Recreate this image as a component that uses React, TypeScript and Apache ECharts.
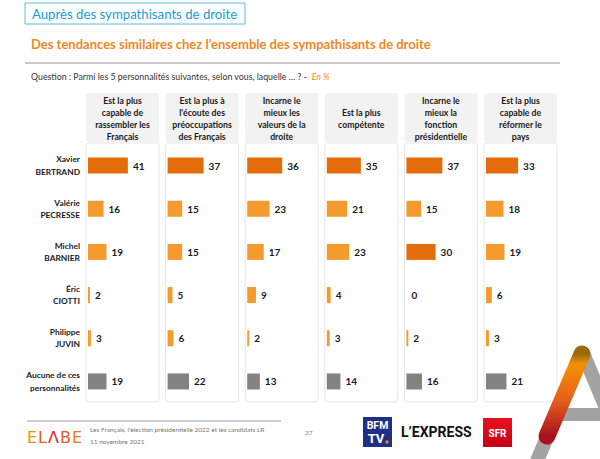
import React, { useEffect, useRef } from "react";
import * as echarts from "echarts";

// ---------- data ----------
const rowLabels = [
  "Xavier\nBERTRAND",
  "Valérie\nPECRESSE",
  "Michel\nBARNIER",
  "Éric\nCIOTTI",
  "Philippe\nJUVIN",
  "Aucune de ces\npersonnalités",
];
const questionLabels = [
  "Est la plus\ncapable de\nrassembler les\nFrançais",
  "Est la plus à\nl'écoute des\npréoccupations\ndes Français",
  "Incarne le\nmieux les\nvaleurs de la\ndroite",
  "Est la plus\ncompétente",
  "Incarne le\nmieux la\nfonction\nprésidentielle",
  "Est la plus\ncapable de\nréformer le\npays",
];
const rassembler = [41, 16, 19, 2, 3, 19];
const ecoute = [37, 15, 15, 5, 6, 22];
const valeurs = [36, 23, 17, 9, 2, 13];
const competente = [35, 21, 23, 4, 3, 14];
const presidentielle = [37, 15, 30, 0, 2, 16];
const reformer = [33, 18, 19, 6, 3, 21];
const columns = [rassembler, ecoute, valeurs, competente, presidentielle, reformer];
// [row, column] cells drawn in the dark orange
const highlighted = [
  [0, 0], [0, 1], [0, 2], [0, 3], [0, 4], [0, 5], [2, 4],
];
const noneRowIndex = 5;

// ---------- styles / layout ----------
const DARK = "#E46C0A";
const LIGHT = "#F59A2C";
const GREY = "#828282";
const ORANGE_TEXT = "#F0871F";
const FONT = "Lato, 'Open Sans', sans-serif";
const PANEL_LEFT0 = 86;
const PANEL_STEP = 79.6;
const PANEL_W = 73;
const HEAD_TOP = 93;
const HEAD_H = 49;
const BODY_TOP = 143;
const BODY_H = 259;

export default function App() {
  const ref = useRef<HTMLDivElement>(null);

  useEffect(() => {
    if (!ref.current) return;
    const chart = echarts.init(ref.current, undefined, { renderer: "svg" });

    const isHi = (r: number, c: number) => highlighted.some(([hr, hc]) => hr === r && hc === c);

    const grids: any[] = [];
    const xAxes: any[] = [];
    const yAxes: any[] = [];
    const series: any[] = [];
    const graphics: any[] = [];

    columns.forEach((vals, c) => {
      const pl = PANEL_LEFT0 + c * PANEL_STEP;
      grids.push({ left: pl + 2, top: BODY_TOP + 1, width: PANEL_W - 2, height: BODY_H, containLabel: false });
      xAxes.push({ type: "value", gridIndex: c, min: 0, max: 73, show: false });
      yAxes.push({
        type: "category",
        gridIndex: c,
        data: rowLabels,
        inverse: true,
        axisLine: { show: false },
        axisTick: { show: false },
        splitLine: { show: false },
        axisLabel: {
          show: c === 0,
          margin: 8,
          color: "#1a1a1a",
          fontFamily: FONT,
          fontWeight: "bold",
          fontSize: 8.4,
          lineHeight: 12.3,
          align: "right",
          padding: [0, 0, 6, 0],
        },
      });
      series.push({
        type: "bar",
        xAxisIndex: c,
        yAxisIndex: c,
        barWidth: 16,
        data: vals.map((v, r) => ({
          value: v,
          itemStyle: { color: r === noneRowIndex ? GREY : isHi(r, c) ? DARK : LIGHT },
        })),
        label: {
          show: true,
          position: "right",
          distance: 5,
          color: "#1a1a1a",
          fontFamily: FONT,
          fontWeight: "bold",
          fontSize: 10,
        },
      });
      // header panel
      graphics.push({
        type: "rect",
        z: 0,
        shape: { x: pl, y: HEAD_TOP, width: PANEL_W, height: HEAD_H, r: 2 },
        style: { fill: "#f2f2f2" },
      });
      graphics.push({
        type: "text",
        z: 1,
        x: pl + PANEL_W / 2,
        y: HEAD_TOP + HEAD_H / 2 + 1,
        style: {
          text: questionLabels[c],
          fill: "#1a1a1a",
          fontFamily: FONT,
          fontWeight: "bold",
          fontSize: 8.7,
          lineHeight: 12,
          align: "center",
          verticalAlign: "middle",
        },
      });
      // body panel
      graphics.push({
        type: "rect",
        z: 0,
        shape: { x: pl, y: BODY_TOP, width: PANEL_W, height: BODY_H, r: 3 },
        style: { fill: "#ffffff", stroke: "#e6e6e6", lineWidth: 1 },
      });
    });

    // header area
    graphics.push(
      {
        type: "rect",
        shape: { x: 25, y: 3, width: 220, height: 21 },
        style: { fill: "#fff", stroke: "#5fb9e6", lineWidth: 1 },
      },
      {
        type: "text",
        x: 32,
        y: 14,
        style: {
          text: "Auprès des sympathisants de droite",
          fill: "#1b9ad6",
          fontFamily: FONT,
          fontSize: 13.2,
          verticalAlign: "middle",
        },
      },
      {
        type: "text",
        x: 31,
        y: 44,
        style: {
          text: "Des tendances similaires chez l’ensemble des sympathisants de droite",
          fill: ORANGE_TEXT,
          fontFamily: FONT,
          fontWeight: "bold",
          fontSize: 13,
          verticalAlign: "middle",
        },
      },
      {
        type: "line",
        shape: { x1: 25, y1: 63, x2: 560, y2: 63 },
        style: { stroke: "#b8b8b8", lineWidth: 1.5 },
      },
      {
        type: "text",
        x: 31,
        y: 76,
        style: {
          text: "{q|Question : Parmi les 5 personnalités suivantes, selon vous, laquelle … ? -  }{e|En %}",
          verticalAlign: "middle",
          rich: {
            q: { fontFamily: FONT, fontSize: 8.8, fill: "#333", color: "#333" },
            e: { fontFamily: FONT, fontSize: 8.8, fontStyle: "italic", fill: ORANGE_TEXT, color: ORANGE_TEXT },
          },
        },
      }
    );

    // footer
    graphics.push(
      {
        type: "line",
        shape: { x1: 27, y1: 421, x2: 281, y2: 421 },
        style: { stroke: "#bdbdbd", lineWidth: 1.5 },
      },
      {
        type: "text",
        x: 27,
        y: 437,
        style: {
          text: "{a|E}{b|L}{c|Λ}{d|B}{e|E}",
          verticalAlign: "middle",
          rich: {
            a: { fontFamily: "DejaVu Sans", fontSize: 16, color: "#F39200", fill: "#F39200", padding: [0, 1, 0, 0] },
            b: { fontFamily: "DejaVu Sans", fontSize: 16, color: "#E8581C", fill: "#E8581C", padding: [0, 1, 0, 0] },
            c: { fontFamily: "DejaVu Sans", fontSize: 16, color: "#D7261E", fill: "#D7261E", padding: [0, 1, 0, 0] },
            d: { fontFamily: "DejaVu Sans", fontSize: 16, color: "#E8581C", fill: "#E8581C", padding: [0, 1, 0, 0] },
            e: { fontFamily: "DejaVu Sans", fontSize: 16, color: "#F07A14", fill: "#F07A14" },
          },
        },
      },
      {
        type: "text",
        x: 90,
        y: 429,
        style: {
          text: "Les Français, l’élection présidentielle 2022 et les candidats LR",
          fill: "#777",
          fontFamily: FONT,
          fontSize: 6.5,
          verticalAlign: "middle",
        },
      },
      {
        type: "text",
        x: 90,
        y: 441,
        style: { text: "11 novembre 2021", fill: "#777", fontFamily: FONT, fontSize: 6.5, verticalAlign: "middle" },
      },
      {
        type: "text",
        x: 305,
        y: 432,
        style: { text: "37", fill: "#888", fontFamily: FONT, fontSize: 6.5, verticalAlign: "middle" },
      },
      // BFM TV
      {
        type: "rect",
        shape: { x: 363, y: 417, width: 29, height: 30 },
        style: { fill: "#1f2f86" },
      },
      {
        type: "text",
        x: 377.5,
        y: 425,
        style: {
          text: "BFM",
          fill: "#fff",
          fontFamily: "Roboto, sans-serif",
          fontWeight: "bold",
          fontSize: 10.5,
          align: "center",
          verticalAlign: "middle",
        },
      },
      {
        type: "text",
        x: 376,
        y: 438,
        style: {
          text: "TV",
          fill: "#fff",
          fontFamily: "Roboto, sans-serif",
          fontWeight: "bold",
          fontSize: 13,
          align: "center",
          verticalAlign: "middle",
        },
      },
      { type: "circle", shape: { cx: 387, cy: 442, r: 1.6 }, style: { fill: "#F39200" } },
      {
        type: "text",
        x: 401,
        y: 432,
        style: {
          text: "L’EXPRESS",
          fill: "#111",
          fontFamily: "Roboto, sans-serif",
          fontWeight: "bold",
          fontSize: 14,
          verticalAlign: "middle",
        },
      },
      {
        type: "rect",
        shape: { x: 483, y: 418, width: 29, height: 29 },
        style: {
          fill: new echarts.graphic.LinearGradient(0, 0, 0, 1, [
            { offset: 0, color: "#e8101e" },
            { offset: 1, color: "#c8001a" },
          ]),
        },
      },
      {
        type: "text",
        x: 497.5,
        y: 433,
        style: {
          text: "SFR",
          fill: "#fff",
          fontFamily: "Roboto, sans-serif",
          fontWeight: "bold",
          fontSize: 10,
          align: "center",
          verticalAlign: "middle",
        },
      },
      // big "A" logo bottom right
      {
        type: "line",
        shape: { x1: 583, y1: 353, x2: 528, y2: 482 },
        style: { stroke: "#a3a3a3", lineWidth: 14 },
      },
      {
        type: "line",
        shape: { x1: 583, y1: 353, x2: 632, y2: 470 },
        style: { stroke: "#a3a3a3", lineWidth: 14 },
      },
      {
        type: "rect",
        shape: { x: 556, y: 408, width: 50, height: 13 },
        style: { fill: "#a3a3a3" },
      },
      {
        type: "line",
        shape: { x1: 582, y1: 354, x2: 547, y2: 436 },
        style: {
          lineWidth: 17,
          lineCap: "round",
          stroke: new echarts.graphic.LinearGradient(0, 0, 0, 1, [
            { offset: 0, color: "#9a6a10" },
            { offset: 0.12, color: "#F39200" },
            { offset: 0.55, color: "#E8601C" },
            { offset: 1, color: "#A8121E" },
          ]),
        },
      }
    );

    chart.setOption({
      animation: false,
      backgroundColor: "#ffffff",
      grid: grids,
      xAxis: xAxes,
      yAxis: yAxes,
      series,
      graphic: graphics,
    });

    return () => chart.dispose();
  }, []);

  return (
    <div
      ref={ref}
      style={{ position: "fixed", left: 0, top: 0, width: 600, height: 459 }}
    />
  );
}
